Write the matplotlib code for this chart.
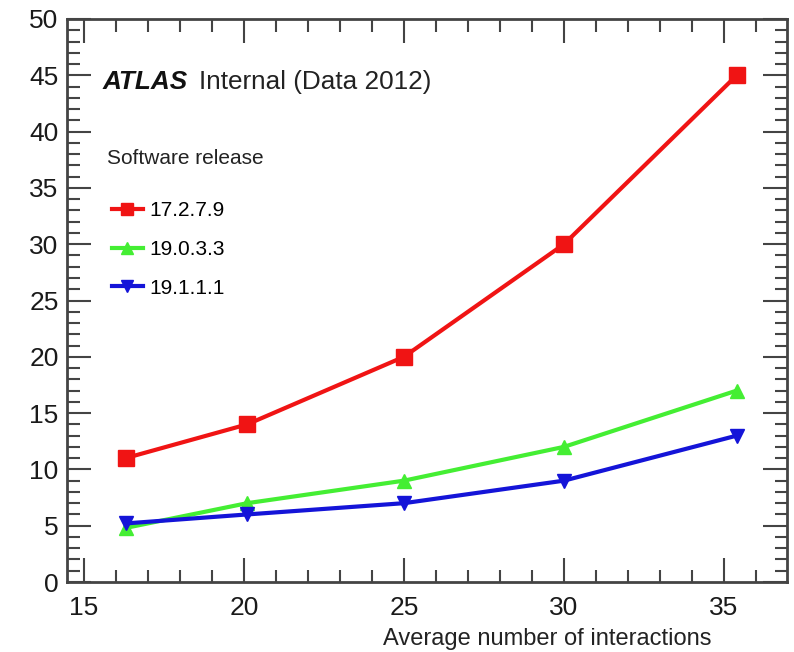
import matplotlib.pyplot as plt
from matplotlib.ticker import MultipleLocator

plt.rcParams['font.family'] = ['Liberation Sans', 'DejaVu Sans']

# values
mu = [16.3, 20.1, 25.0, 30.0, 35.4]
rel_17279 = [11, 14, 20, 30, 45]
rel_19033 = [4.8, 7, 9, 12, 17]
rel_19111 = [5.2, 6, 7, 9, 13]
releases = ['17.2.7.9', '19.0.3.3', '19.1.1.1']

fig = plt.figure(figsize=(7.94, 6.52), dpi=100)
ax = fig.add_axes([67/794, 1 - 582/652, 720/794, 563/652])

ax.plot(mu, rel_17279, color='#f01414', lw=3, marker='s', ms=11, label=releases[0])
ax.plot(mu, rel_19033, color='#44ee33', lw=3, marker='^', ms=10, label=releases[1])
ax.plot(mu, rel_19111, color='#1414d8', lw=3, marker='v', ms=10, label=releases[2])

ax.set_xlim(14.47, 36.97)
ax.set_ylim(0, 50)
ax.xaxis.set_major_locator(MultipleLocator(5))
ax.xaxis.set_minor_locator(MultipleLocator(1))
ax.yaxis.set_major_locator(MultipleLocator(5))
ax.yaxis.set_minor_locator(MultipleLocator(1))
ax.tick_params(which='both', direction='in', top=True, right=True, colors='#444444',
               labelcolor='#1a1a1a', labelsize=19, width=1.5)
ax.tick_params(which='major', length=17)
ax.tick_params(which='minor', length=9)
ax.tick_params(axis='x', pad=10)
ax.tick_params(axis='y', pad=6)
for s in ax.spines.values():
    s.set_color('#444444')
    s.set_linewidth(2)

ax.text(0.05, 0.876, 'ATLAS', transform=ax.transAxes, fontsize=18.8,
        fontweight='bold', style='italic', color='#111111')
ax.text(0.183, 0.876, 'Internal (Data 2012)', transform=ax.transAxes,
        fontsize=18.8, color='#222222')

# legend title as a separate text, the gap to the entries is larger than matplotlib's
ax.text(0.0556, 0.753, 'Software release', transform=ax.transAxes,
        fontsize=15, va='center', color='#222222')
leg = ax.legend(loc='upper left', bbox_to_anchor=(0.036, 0.710), frameon=False,
                fontsize=15, handlelength=1.5, handletextpad=0.3,
                labelspacing=0.95, markerscale=0.8)

fig.text(383/794, 0.003, 'Average number of interactions',
         va='bottom', ha='left', fontsize=17, color='#222222')

plt.savefig('out.png', dpi=100)
plt.close()
